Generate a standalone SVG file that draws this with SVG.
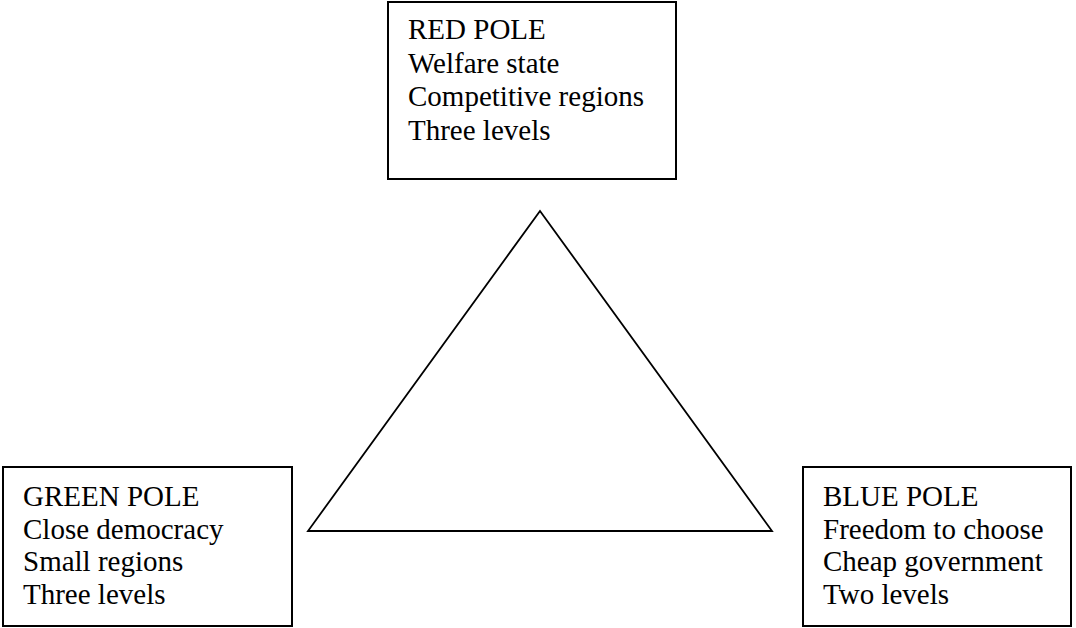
<svg xmlns="http://www.w3.org/2000/svg" width="1076" height="628" viewBox="0 0 1076 628">
<style>
.box{fill:#fff;stroke:#000;stroke-width:2}
.tri{fill:none;stroke:#000;stroke-width:1.8;stroke-linejoin:miter}
.lbl{font-family:"Liberation Serif","Times New Roman",serif;font-size:29px;fill:#000}
</style>
<rect width="1076" height="628" fill="#fff"/>
<g id="connectors">
<polygon class="tri" points="540,211 308,531 772,531"/>
</g>
<g id="red-pole">
<rect class="box" x="388" y="2" width="288" height="177"/>
<text class="lbl" x="408" y="39"><tspan x="408">RED POLE</tspan><tspan x="408" dy="33.5">Welfare state</tspan><tspan x="408" dy="33.5">Competitive regions</tspan><tspan x="408" dy="33.5">Three levels</tspan></text>
</g>
<g id="green-pole">
<rect class="box" x="3" y="467" width="289" height="159"/>
<text class="lbl" x="23" y="506"><tspan x="23">GREEN POLE</tspan><tspan x="23" dy="32.5">Close democracy</tspan><tspan x="23" dy="32.5">Small regions</tspan><tspan x="23" dy="32.5">Three levels</tspan></text>
</g>
<g id="blue-pole">
<rect class="box" x="803" y="467" width="268" height="159"/>
<text class="lbl" x="823" y="506"><tspan x="823">BLUE POLE</tspan><tspan x="823" dy="32.5">Freedom to choose</tspan><tspan x="823" dy="32.5">Cheap government</tspan><tspan x="823" dy="32.5">Two levels</tspan></text>
</g>
</svg>
